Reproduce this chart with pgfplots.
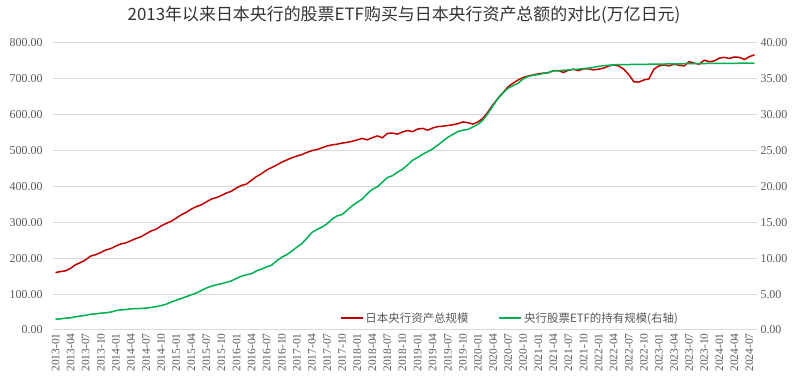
\documentclass[border=0pt]{standalone}
\usepackage{fontspec}
\setmainfont{Liberation Serif}
\newfontfamily\cjk{Noto Sans CJK SC}
\usepackage{pgfplots}
\usepackage{pgfplotstable}
\pgfplotsset{compat=1.18}
\definecolor{redl}{HTML}{C00000}
\definecolor{greenl}{HTML}{00B050}
\definecolor{gridc}{HTML}{D9D9D9}
\definecolor{txt}{HTML}{595959}

\pgfplotstableread{
i red green
0 160 1.50
1 163 1.55
2 165 1.65
3 172 1.70
4 182 1.85
5 188 1.95
6 196 2.05
7 206 2.20
8 210 2.25
9 216 2.35
10 223 2.40
11 227 2.50
12 234 2.70
13 240 2.80
14 243 2.85
15 249 2.95
16 255 2.98
17 260 3.00
18 268 3.05
19 276 3.15
20 281 3.25
21 290 3.40
22 297 3.60
23 303 3.90
24 312 4.15
25 321 4.40
26 328 4.65
27 337 4.90
28 344 5.15
29 349 5.50
30 357 5.85
31 365 6.10
32 369 6.30
33 375 6.45
34 382 6.65
35 387 6.85
36 396 7.20
37 403 7.50
38 407 7.70
39 418 7.85
40 428 8.25
41 436 8.50
42 446 8.80
43 453 9.05
44 460 9.65
45 468 10.15
46 474 10.50
47 480 11.00
48 485 11.55
49 489 12.05
50 495 12.80
51 500 13.60
52 503 14.00
53 508 14.35
54 513 14.80
55 516 15.45
56 518 15.90
57 521 16.10
58 523 16.70
59 526 17.30
60 530 17.80
61 534 18.25
62 530 19.00
63 536 19.60
64 541 19.95
65 536 20.60
66 548 21.25
67 549 21.50
68 546 22.00
69 552 22.40
70 556 23.00
71 553 23.65
72 560 24.05
73 562 24.50
74 557 24.85
75 563 25.25
76 567 25.75
77 568 26.30
78 570 26.85
79 572 27.25
80 575 27.65
81 580 27.85
82 578 27.95
83 574 28.30
84 580 28.65
85 590 29.25
86 608 30.20
87 628 31.25
88 646 32.30
89 662 33.05
90 678 33.70
91 688 34.05
92 697 34.40
93 704 35.00
94 708 35.35
95 711 35.50
96 714 35.60
97 716 35.75
98 717 35.90
99 723 36.10
100 723 36.15
101 718 36.20
102 724 36.25
103 727 36.30
104 723 36.35
105 728 36.45
106 728 36.50
107 725 36.60
108 727 36.75
109 730 36.85
110 736 36.90
111 739 36.95
112 736 37.00
113 727 37.00
114 712 37.00
115 692 37.01
116 691 37.02
117 697 37.03
118 700 37.04
119 727 37.05
120 736 37.06
121 739 37.07
122 736 37.08
123 741 37.09
124 738 37.10
125 736 37.11
126 748 37.12
127 744 37.13
128 741 37.14
129 752 37.14
130 748 37.15
131 750 37.15
132 758 37.16
133 760 37.16
134 757 37.17
135 761 37.17
136 760 37.18
137 754 37.18
138 762 37.19
139 767 37.20
}\data

\pgfplotsset{
  common/.style={
    at={(53bp,57bp)}, anchor=south west, scale only axis,
    width=704bp, height=287bp,
    xmin=-0.5, xmax=139.5,
    axis line style={draw=none}, tick style={draw=none},
    /pgf/number format/assume math mode=true,
    yticklabel style={font=\fontsize{12}{12}\selectfont, text=txt,
      /pgf/number format/fixed, /pgf/number format/fixed zerofill,
      /pgf/number format/precision=2},
  }
}

\begin{document}
\begin{tikzpicture}
\useasboundingbox (0bp,0bp) rectangle (800bp,387bp);
\begin{axis}[common,
  ymin=0, ymax=800, ytick={0,100,...,800},
  yticklabel style={xshift=-7bp},
  ymajorgrids, major grid style={gridc, line width=1bp},
  xtick={0,3,...,138},
  xticklabels={2013-01,2013-04,2013-07,2013-10,2014-01,2014-04,2014-07,2014-10,2015-01,2015-04,2015-07,2015-10,2016-01,2016-04,2016-07,2016-10,2017-01,2017-04,2017-07,2017-10,2018-01,2018-04,2018-07,2018-10,2019-01,2019-04,2019-07,2019-10,2020-01,2020-04,2020-07,2020-10,2021-01,2021-04,2021-07,2021-10,2022-01,2022-04,2022-07,2022-10,2023-01,2023-04,2023-07,2023-10,2024-01,2024-04,2024-07},
  xticklabel style={rotate=90, anchor=east, font=\fontsize{11.5}{11.5}\selectfont, text=txt},
]
\addplot[redl, line width=1.5bp, no marks] table[x=i, y=red] {\data};
\end{axis}
\begin{axis}[common,
  ymin=0, ymax=40, ytick={0,5,...,40},
  axis x line=none, axis y line*=right,
  legend style={at={(0.649,0.042)}, anchor=center, draw=none, fill=none,
    legend columns=2, font=\cjk\fontsize{11.5}{11.5}\selectfont, text=txt,
    /tikz/every even column/.append style={column sep=28bp}},
  legend image code/.code={\draw[#1,line width=1.6bp] (0bp,0bp) -- (22bp,0bp);},
]
\addlegendimage{redl}
\addlegendentry{日本央行资产总规模}
\addplot[greenl, line width=1.5bp, no marks] table[x=i, y=green] {\data};
\addlegendentry{央行股票ETF的持有规模(右轴)}
\end{axis}
\node[font=\cjk\fontsize{17}{17}\selectfont, text=black!80] at (404bp,372bp)
  {2013年以来日本央行的股票ETF购买与日本央行资产总额的对比(万亿日元)};
\end{tikzpicture}
\end{document}
